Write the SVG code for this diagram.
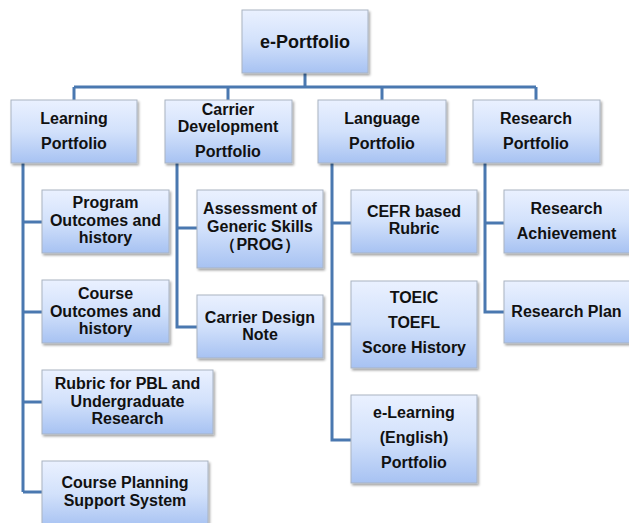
<svg xmlns="http://www.w3.org/2000/svg" width="629" height="523" viewBox="0 0 629 523">
<defs>
<linearGradient id="g" x1="0" y1="0" x2="0" y2="1">
<stop offset="0" stop-color="#eaf1ff"/>
<stop offset="0.5" stop-color="#d2e1fb"/>
<stop offset="1" stop-color="#a7c2f2"/>
</linearGradient>
<filter id="sh" x="-10%" y="-10%" width="130%" height="130%">
<feDropShadow dx="1.5" dy="2" stdDeviation="1.2" flood-color="#000" flood-opacity="0.35"/>
</filter>
</defs>
<style>
.b{fill:url(#g);stroke:#a9b3c2;stroke-width:1;filter:url(#sh)}
.t{font-family:"Liberation Sans",Arial,sans-serif;font-size:16px;font-weight:bold;fill:#111;text-anchor:middle}
.c{fill:none;stroke:#4a78b0;stroke-width:3}
</style>
<rect width="629" height="523" fill="#fff"/>
<g id="connectors">
<path class="c" d="M305,73 V87 M74,87 H536 M74,87 V100 M228,87 V100 M382,87 V100 M536,87 V100"/>
<path class="c" d="M23,163 V492 M23,222 H42 M23,312 H42 M23,402 H42 M23,492 H42"/>
<path class="c" d="M177,163 V327 H197 M177,228 H197"/>
<path class="c" d="M332,163 V440 H351 M332,223 H351 M332,324 H351"/>
<path class="c" d="M485,163 V312 H504 M485,223 H504"/>
</g>
<g id="eportfolio"><rect class="b" x="242" y="10" width="126" height="63"/><text class="t" style="font-size:18px" x="305" y="48">e-Portfolio</text></g>
<g id="learning"><rect class="b" x="11" y="100" width="126" height="63"/><text class="t" x="74" y="124">Learning</text><text class="t" x="74" y="149">Portfolio</text></g>
<g id="carrier"><rect class="b" x="165" y="100" width="127" height="63"/><text class="t" x="228" y="115">Carrier</text><text class="t" x="228" y="132">Development</text><text class="t" x="228" y="157">Portfolio</text></g>
<g id="language"><rect class="b" x="318" y="100" width="128" height="63"/><text class="t" x="382" y="124">Language</text><text class="t" x="382" y="149">Portfolio</text></g>
<g id="research"><rect class="b" x="473" y="100" width="127" height="63"/><text class="t" x="536" y="124">Research</text><text class="t" x="536" y="149">Portfolio</text></g>
<g id="program"><rect class="b" x="42" y="190" width="127" height="63"/><text class="t" x="105.5" y="208">Program</text><text class="t" x="105.5" y="226">Outcomes and</text><text class="t" x="105.5" y="243">history</text></g>
<g id="course"><rect class="b" x="42" y="280" width="127" height="63"/><text class="t" x="105.5" y="299">Course</text><text class="t" x="105.5" y="317">Outcomes and</text><text class="t" x="105.5" y="334">history</text></g>
<g id="rubric"><rect class="b" x="42" y="370" width="171" height="64"/><text class="t" x="127.5" y="389">Rubric for PBL and</text><text class="t" x="127.5" y="407">Undergraduate</text><text class="t" x="127.5" y="424">Research</text></g>
<g id="planning"><rect class="b" x="42" y="461" width="166" height="66"/><text class="t" x="125" y="488">Course Planning</text><text class="t" x="125" y="506">Support System</text></g>
<g id="assessment"><rect class="b" x="197" y="190" width="126" height="78"/><text class="t" x="260" y="214">Assessment of</text><text class="t" x="260" y="232">Generic Skills</text><text class="t" x="260" y="250">（PROG）</text></g>
<g id="design"><rect class="b" x="197" y="295" width="126" height="63"/><text class="t" x="260" y="323">Carrier Design</text><text class="t" x="260" y="340">Note</text></g>
<g id="cefr"><rect class="b" x="351" y="190" width="126" height="63"/><text class="t" x="414" y="217">CEFR based</text><text class="t" x="414" y="234">Rubric</text></g>
<g id="toeic"><rect class="b" x="351" y="281" width="126" height="87"/><text class="t" x="414" y="303">TOEIC</text><text class="t" x="414" y="328">TOEFL</text><text class="t" x="414" y="353">Score History</text></g>
<g id="elearning"><rect class="b" x="351" y="395" width="126" height="88"/><text class="t" x="414" y="418">e-Learning</text><text class="t" x="414" y="443">(English)</text><text class="t" x="414" y="468">Portfolio</text></g>
<g id="achievement"><rect class="b" x="504" y="190" width="127" height="63"/><text class="t" x="566.5" y="214">Research</text><text class="t" x="566.5" y="239">Achievement</text></g>
<g id="plan"><rect class="b" x="504" y="281" width="127" height="62"/><text class="t" x="566.5" y="317">Research Plan</text></g>
</svg>
